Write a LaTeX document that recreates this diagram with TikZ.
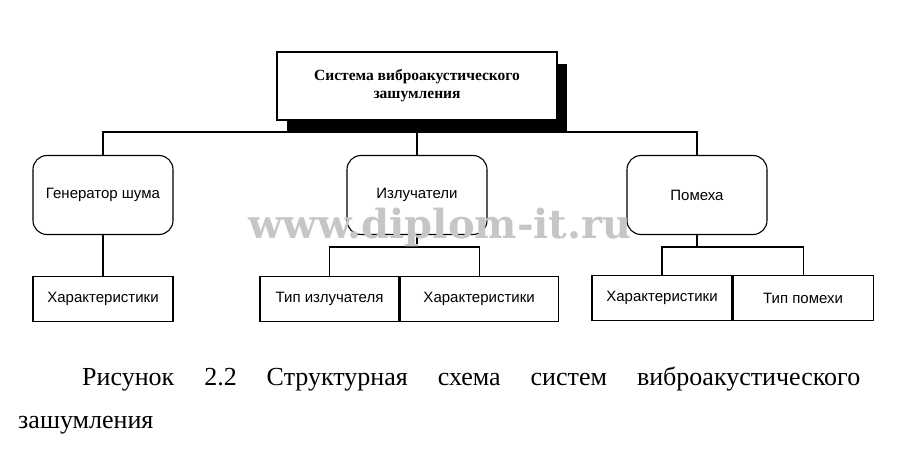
\documentclass[tikz,border=0pt]{standalone}
\usepackage{fontspec}
\setmainfont{Liberation Serif}
\newfontfamily\boxfont{Liberation Sans}
\newfontfamily\wmfont{DejaVu Serif}
\tikzset{
  lbl/.style={draw, line width=1.1pt, font=\boxfont\fontsize{15}{17}\selectfont, inner sep=0pt, align=center},
  roundbox/.style={lbl, rounded corners=14pt, minimum width=140pt, minimum height=79pt},
  leafbox/.style={lbl, minimum height=45pt},
  topbox/.style={draw, line width=1.1pt, fill=white, minimum width=280pt, minimum height=68pt, inner sep=0pt,
                 align=center, font=\bfseries\fontsize{15.5}{18}\selectfont},
  conn/.style={line width=1.1pt}
}
\begin{document}
\begin{tikzpicture}[x=1pt,y=-1pt]
                \fill[white] (0,0) rectangle (899,460);
                \useasboundingbox (0,0) rectangle (899,460);
                % top block with shadow
                \coordinate (syspos) at (417,86);
                \fill[black] ([xshift=150pt,yshift=-46pt]syspos) rectangle ([xshift=-130pt,yshift=22pt]syspos);
                \node[topbox] (sys) at (syspos) {Система виброакустического\\зашумления};
                % second level
                \node[roundbox] (gen) at (103,195) {Генератор шума};
                \node[roundbox] (izl) at (417,195) {Излучатели};
                \node[roundbox] (pom) at (697,195) {Помеха};
                % leaves
                \node[leafbox, minimum width=140pt] (genchar) at (103,299) {Характеристики};
                \node[leafbox, minimum width=139pt] (izltype) at (329.5,299) {Тип излучателя};
                \node[leafbox, minimum width=158pt, anchor=west] (izlchar) at (izltype.east) {Характеристики};
                \node[leafbox, minimum width=140pt] (pomchar) at (662,298) {Характеристики};
                \node[leafbox, minimum width=140pt, anchor=west] (pomtype) at (pomchar.east) {Тип помехи};
                % connectors
                \coordinate (bus) at (417,132);
                \draw[conn] (sys.south) -- (bus);
                \draw[conn] (gen.north) |- (bus) -| (pom.north);
                \draw[conn] (bus) -- (izl.north);
                \draw[conn] (gen.south) -- (genchar.north);
                \coordinate (izlbar) at (417,247);
                \draw[conn] (izl.south) -- (izlbar);
                \draw[conn] (izltype.north) |- (izlbar) -| (izlchar.north);
                \coordinate (pombar) at (697,247);
                \draw[conn] (pom.south) -- (pombar);
                \draw[conn] (pomchar.north) |- (pombar) -| (pomtype.north);
                % watermark
                \node[anchor=base, inner sep=0pt, text=gray!45, font=\wmfont\bfseries\fontsize{40}{42}\selectfont] (wm) at (440,238) {www.diplom-it.ru};
                % caption
                \node[anchor=base west, inner sep=0pt, font=\fontsize{26}{30}\selectfont] (cap1) at (82,385)
                  {\hbox to 778pt{Рисунок\hfill 2.2\hfill Структурная\hfill схема\hfill систем\hfill виброакустического}};
                \node[anchor=base west, inner sep=0pt, font=\fontsize{26}{30}\selectfont] (cap2) at (18,428) {зашумления};
\end{tikzpicture}
\end{document}
